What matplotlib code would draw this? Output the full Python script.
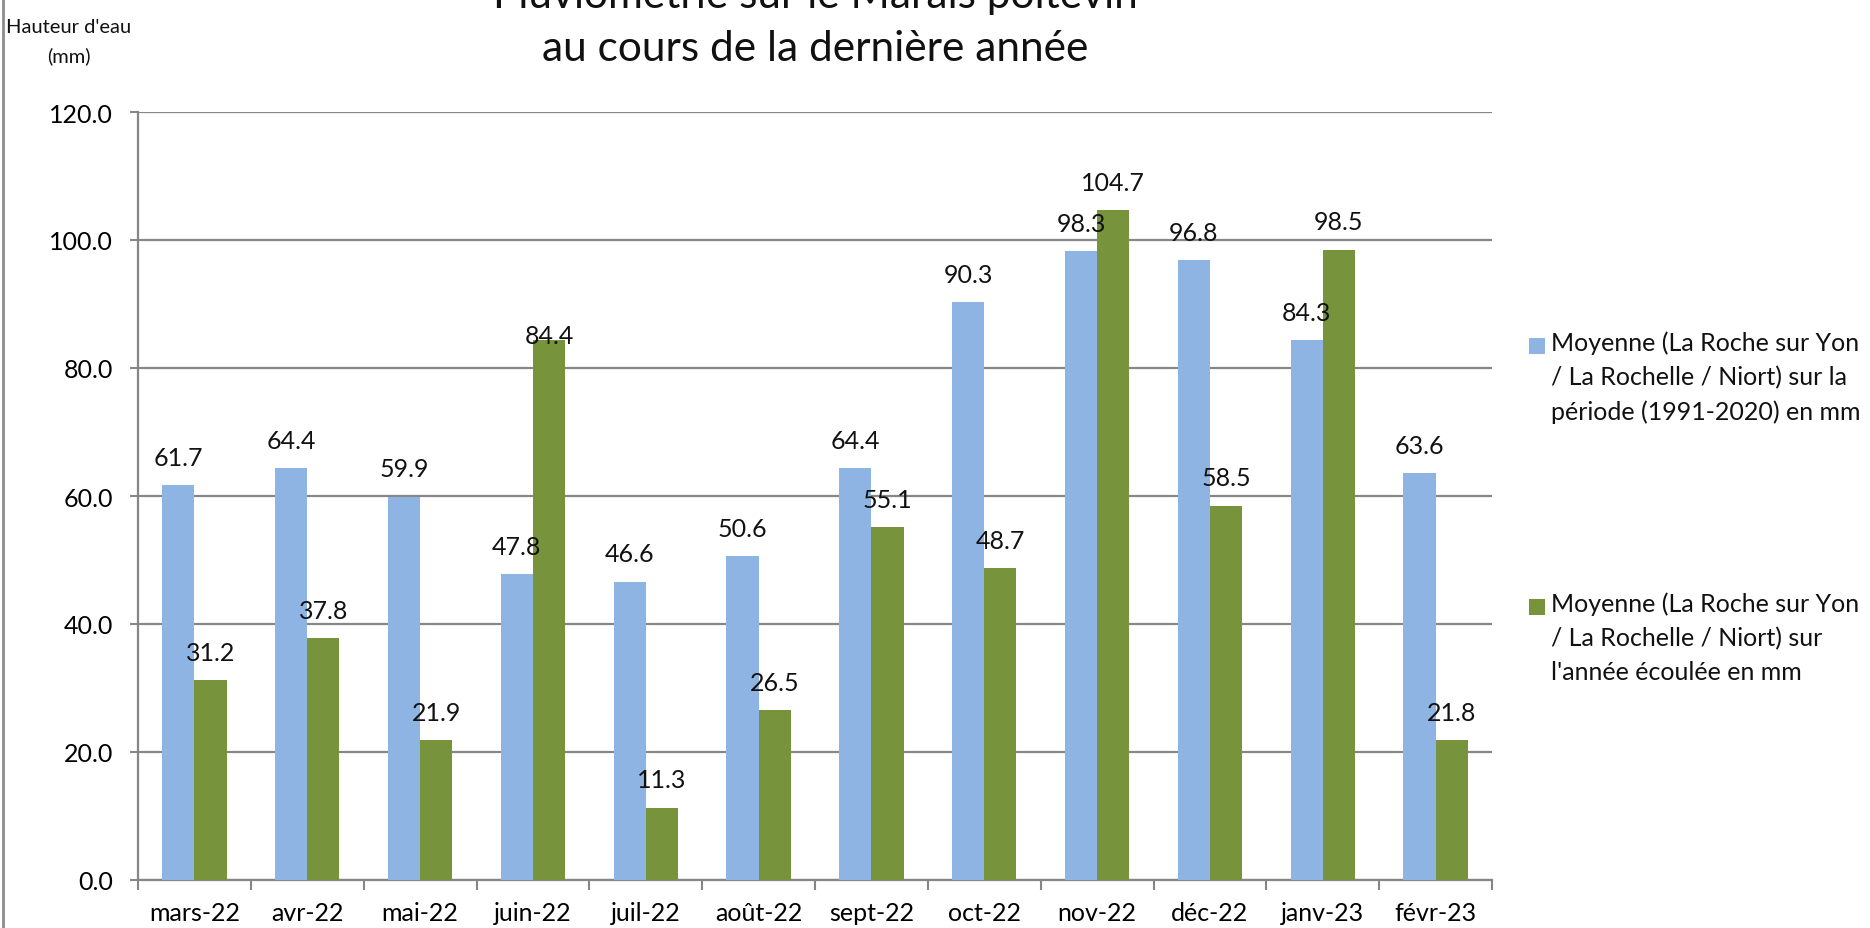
import matplotlib
matplotlib.use("Agg")
import matplotlib.pyplot as plt
from matplotlib.patches import Rectangle
from matplotlib.lines import Line2D
import numpy as np

months = ["mars-22", "avr-22", "mai-22", "juin-22", "juil-22", "août-22",
          "sept-22", "oct-22", "nov-22", "déc-22", "janv-23", "févr-23"]
normale = [61.7, 64.4, 59.9, 47.8, 46.6, 50.6, 64.4, 90.3, 98.3, 96.8, 84.3, 63.6]
annee = [31.2, 37.8, 21.9, 84.4, 11.3, 26.5, 55.1, 48.7, 104.7, 58.5, 98.5, 21.8]
series_labels = [
    "Moyenne (La Roche sur Yon\n/ La Rochelle / Niort) sur la\npériode (1991-2020) en mm",
    "Moyenne (La Roche sur Yon\n/ La Rochelle / Niort) sur\nl'année écoulée en mm",
]
title_lines = ["Pluviométrie sur le Marais poitevin", "au cours de la dernière année"]
ylabel_text = "Hauteur d'eau\n(mm)"
yticks = [0, 20, 40, 60, 80, 100, 120]

BLUE = "#8EB4E3"
GREEN = "#77933C"
GRID = "#868686"
FONT = ["Lato", "DejaVu Sans"]
FS = 18

plt.rcParams["font.family"] = FONT

fig = plt.figure(figsize=(18.7, 9.29), dpi=100)
W, H = 1870, 929
ax = fig.add_axes([138 / W, 1 - 881 / H, (1492 - 138) / W, (881 - 113) / H])

x = np.arange(len(months))
bw = 0.285
b1 = ax.bar(x - bw / 2, normale, width=bw, color=BLUE, zorder=3)
b2 = ax.bar(x + bw / 2, annee, width=bw, color=GREEN, zorder=3)

# data labels (the juin-22 green label sits closer to its bar in the original)
for si, (bars, vals) in enumerate(((b1, normale), (b2, annee))):
    for i, (rect, v) in enumerate(zip(bars, vals)):
        off = 3 if (si == 1 and i == 3) else 20
        ax.annotate(f"{v:.1f}", (rect.get_x() + rect.get_width() / 2, v),
                    xytext=(0, off), textcoords="offset points",
                    ha="center", va="center", fontsize=FS, color="#111111",
                    zorder=5)

ax.set_xlim(-0.5, len(months) - 0.5)
ax.set_ylim(0, 120)
ax.set_yticks(yticks)
ax.set_yticklabels([f"{t:.1f}" for t in yticks])
ax.set_xticks(x)
ax.set_xticklabels(months)
ax.set_xticks(np.arange(-0.5, len(months)), minor=True)
ax.tick_params(axis="x", which="major", length=0, pad=15, labelsize=FS)
ax.tick_params(axis="x", which="minor", length=7, width=1.5, color=GRID, direction="out")
ax.tick_params(axis="y", which="major", length=6, width=1.5, color=GRID, pad=12, labelsize=FS)

ax.yaxis.grid(True, color=GRID, linewidth=1.6, zorder=0)
ax.set_axisbelow(True)
for s in ("top", "right"):
    ax.spines[s].set_visible(False)
for s in ("left", "bottom"):
    ax.spines[s].set_color(GRID)
    ax.spines[s].set_linewidth(1.6)

# title (first line is partly cut by the top edge, as in the original)
fig.text(815 / W, 1 - 8 / H, title_lines[0], ha="center", va="baseline", fontsize=30.5, color="#111111")
fig.text(815 / W, 1 - 61 / H, title_lines[1], ha="center", va="baseline", fontsize=30.5, color="#111111")

# y-axis label
fig.text(69 / W, 1 - 42 / H, ylabel_text, ha="center", va="center", fontsize=14.5,
         linespacing=1.75, color="#111111")

# legend (manual)
legend_colors = [BLUE, GREEN]
legend_tops = [339, 600]
for col, lab, top in zip(legend_colors, series_labels, legend_tops):
    fig.patches.append(Rectangle((1529 / W, 1 - (top + 16) / H), 16 / W, 16 / H,
                                 transform=fig.transFigure, facecolor=col, edgecolor="none"))
    fig.text(1551 / W, 1 - (top - 8) / H, lab, ha="left", va="top", fontsize=FS,
             linespacing=1.58, color="#111111")

# left border of chart area
fig.lines.append(Line2D([3 / W, 3 / W], [0, 1], transform=fig.transFigure, color="#8c8c8c", linewidth=2))

fig.savefig("out.png", dpi=100)
